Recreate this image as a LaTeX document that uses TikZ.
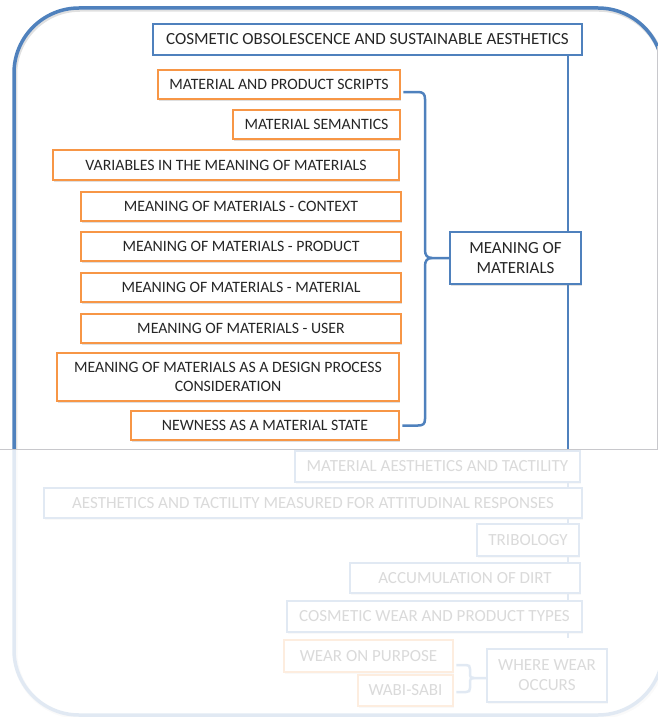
\documentclass[tikz,border=0pt]{standalone}
\usepackage{fontspec}
\setmainfont{Carlito}
\usetikzlibrary{shadows}
\definecolor{frameblue}{HTML}{4F81BD}
\definecolor{boxorange}{HTML}{F79646}
\definecolor{inkgray}{HTML}{262626}
\definecolor{edgegray}{HTML}{C8C8CC}
\pgfdeclarelayer{background}
\pgfdeclarelayer{veil}
\pgfsetlayers{background,main,veil}
% box given by its corners: style, name, x1, y1, x2, y2, text
\newcommand\cornerbox[7]{%
  \node[#1, minimum width={#5-#3}, minimum height={#6-#4}] (#2)
    at ({(#3+#5)/2},{(#4+#6)/2}) {#7};}
\begin{document}
\begin{tikzpicture}[x=1pt,y=-1pt,
  boxbase/.style={rectangle, fill=white, line width=2.5pt, text=inkgray,
    align=center, inner sep=0pt, font=\fontsize{17}{20}\selectfont,
    drop shadow={opacity=0.25, shadow xshift=1.2pt, shadow yshift=-1.5pt}},
  obox/.style={boxbase, draw=boxorange},
  topic/.style={obox, font=\fontsize{15.8}{19}\selectfont},
  bbox/.style={boxbase, draw=frameblue},
  link/.style={draw=frameblue, line width=2.5pt},
  framestyle/.style={draw=frameblue, line width=3.5pt, rounded corners=65pt},
  edge/.style={draw=edgegray, line width=1pt},
]
\clip (0,0) rectangle (658,717);
\useasboundingbox (0,0) rectangle (658,717);

% outer rounded frame with a faint shadow
\coordinate (frameNW) at (14,8);
\coordinate (frameSE) at (663,715);
\draw[framestyle, draw=black, opacity=0.12, line width=4.5pt] ([xshift=1pt,yshift=-1.5pt]frameNW) rectangle ([xshift=1pt,yshift=-1.5pt]frameSE);
\draw[framestyle] (frameNW) rectangle (frameSE);

% title and hub boxes
\cornerbox{bbox}{title}{153}{24}{582}{55}{COSMETIC OBSOLESCENCE AND SUSTAINABLE AESTHETICS}
\cornerbox{bbox}{mom}{450}{232}{581}{284}{MEANING OF\\MATERIALS}

% topics grouped under the hub
\cornerbox{topic}{o1}{158}{70}{400}{99}{MATERIAL AND PRODUCT SCRIPTS}
\cornerbox{topic}{o2}{233}{110}{400}{139}{MATERIAL SEMANTICS}
\cornerbox{topic}{o3}{53}{150}{399}{180}{VARIABLES IN THE MEANING OF MATERIALS}
\cornerbox{topic}{o4}{81}{192}{401}{221}{MEANING OF MATERIALS - CONTEXT}
\cornerbox{topic}{o5}{81}{232}{401}{261}{MEANING OF MATERIALS - PRODUCT}
\cornerbox{topic}{o6}{81}{273}{401}{302}{MEANING OF MATERIALS - MATERIAL}
\cornerbox{topic}{o7}{81}{314}{401}{343}{MEANING OF MATERIALS - USER}
\cornerbox{topic}{o8}{57}{353}{399}{401}{MEANING OF MATERIALS AS A DESIGN PROCESS\\CONSIDERATION}
\cornerbox{topic}{o9}{131}{411}{399}{440}{NEWNESS AS A MATERIAL STATE}

% lower section
\cornerbox{bbox}{f1}{295}{451}{580}{482}{MATERIAL AESTHETICS AND TACTILITY}
\cornerbox{bbox}{f2}{44}{488}{582}{518}{AESTHETICS AND TACTILITY MEASURED FOR ATTITUDINAL RESPONSES}
\cornerbox{bbox}{f3}{477}{524}{579}{556}{TRIBOLOGY}
\cornerbox{bbox}{f4}{350}{563}{580}{593}{ACCUMULATION OF DIRT}
\cornerbox{bbox}{f5}{287}{601}{582}{632}{COSMETIC WEAR AND PRODUCT TYPES}
\cornerbox{obox}{f6}{284}{640}{453}{672}{WEAR ON PURPOSE}
\cornerbox{obox}{f7}{358}{675}{453}{706}{WABI-SABI}
\cornerbox{bbox}{f8}{487}{649}{607}{702}{WHERE WEAR\\OCCURS}

% connectors, kept behind the boxes
\coordinate (spineEnd) at (568,638);
\coordinate (braceTip) at (432,258);
\coordinate (pairTip) at (474,678);
\begin{pgfonlayer}{background}
  \draw[link] (title.south -| spineEnd) -- (spineEnd);
  % curly brace gathering the topics
  \draw[link] ([xshift=2pt,yshift=-7.5pt]o1.east) -- (418,92)
    .. controls (423,92) and (425,94) .. (425,99) -- (425,250)
    .. controls (425,255) and (427,258) .. (braceTip) -- (mom.west);
  \draw[link] (braceTip)
    .. controls (427,258) and (425,261) .. (425,266) -- (425,419)
    .. controls (425,424) and (423,425.5) .. (418,425.5) -- ([xshift=2pt]o9.east);
  % small bracket joining the two wear topics
  \draw[link] ([xshift=2pt,yshift=-9pt]f6.east) -- (466,665)
    .. controls (469,665) and (470,666) .. (470,669) -- (470,675)
    .. controls (470,677) and (471,678) .. (pairTip) -- (f8.west |- pairTip);
  \draw[link] (pairTip)
    .. controls (471,678) and (470,679) .. (470,681) -- (470,688)
    .. controls (470,691) and (469,692) .. (466,692) -- ([xshift=2pt,yshift=-1.5pt]f7.east);
\end{pgfonlayer}

% faded lower half and picture edges
\coordinate (veilNW) at (0,449.5);
\coordinate (veilSE) at (658,717);
\coordinate (edgeTop) at (657,46);
\begin{pgfonlayer}{veil}
  \fill[white, opacity=0.83] (veilNW) rectangle (veilSE);
  \draw[edge] (veilNW) -- (veilNW -| veilSE);
  \draw[edge] (edgeTop) -- (edgeTop |- veilNW);
\end{pgfonlayer}
\end{tikzpicture}
\end{document}
